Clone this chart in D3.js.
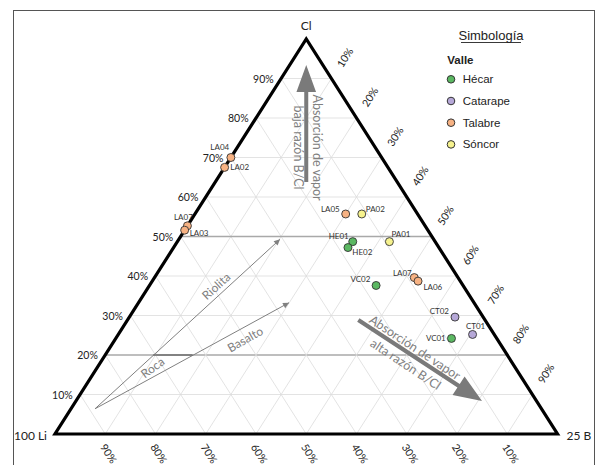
<!DOCTYPE html>
<html>
<head>
<meta charset="utf-8">
<script src="https://cdn.jsdelivr.net/npm/d3@7/dist/d3.min.js"></script>
<style>
  html, body { margin: 0; padding: 0; background: #fff; }
  svg { display: block; }
</style>
</head>
<body>
<svg id="chart" width="599" height="465"></svg>
<script>
// ---- Sample data: ternary composition (percent) for Li – B – Cl ----
const samples = ["LA04", "LA02", "LA07", "LA03", "LA05", "PA02", "HE01", "HE02", "PA01", "VC02", "LA07", "LA06", "CT02", "CT01", "VC01"];
const valley  = ["Talabre", "Talabre", "Talabre", "Talabre", "Talabre", "Sóncor", "Hécar", "Hécar", "Sóncor", "Hécar", "Talabre", "Talabre", "Catarape", "Catarape", "Hécar"];
const clPct   = [70.0, 67.5, 52.7, 51.6, 55.7, 55.7, 48.7, 47.2, 48.7, 37.6, 39.6, 38.7, 29.6, 25.2, 24.2];
const bPct    = [0.0, 0.0, 0.0, 0.0, 30.0, 33.2, 34.9, 34.7, 42.2, 45.1, 51.7, 52.9, 64.8, 70.5, 66.8];

// Legend categories
const valleys = ["Hécar", "Catarape", "Talabre", "Sóncor"];
const valleyColors = ["#5bb862", "#b6a8d8", "#f7b283", "#f6f28e"];

// Axis tick values (percent)
const ticks = [10, 20, 30, 40, 50, 60, 70, 80, 90];
const tickLabels = ticks.map(t => t + "%");

// ---- Layout ----
const svg = d3.select("#chart");
const xScale = d3.scaleLinear().domain([0, 1]).range([55, 557.5]);   // B + Cl/2
const yScale = d3.scaleLinear().domain([0, 1]).range([434, 39]);     // Cl

function project(li, b, cl) {
  const s = li + b + cl;
  const bf = b / s, cf = cl / s;
  return [xScale(bf + cf / 2), yScale(cf)];
}
const T = (b, cl) => project(100 - b - cl, b, cl);

const font = "Lato, 'Open Sans', sans-serif";

// Outer frame
svg.append("rect")
  .attr("x", 13.5).attr("y", 10.5).attr("width", 581).attr("height", 480)
  .attr("fill", "none").attr("stroke", "#555").attr("stroke-width", 1);

// ---- Grid ----
const grid = svg.append("g");
ticks.forEach(t => {
  const k = t;
  // constant Cl (horizontal)
  const a1 = T(0, k), a2 = T(100 - k, k);
  const strong = (k === 50 || k === 20);
  grid.append("line")
    .attr("x1", a1[0]).attr("y1", a1[1]).attr("x2", a2[0]).attr("y2", a2[1])
    .attr("stroke", strong ? "#a9a9a9" : "#dcdcdc")
    .attr("stroke-width", strong ? 1.3 : 0.8);
  // constant B
  const b1 = T(k, 0), b2 = T(k, 100 - k);
  grid.append("line")
    .attr("x1", b1[0]).attr("y1", b1[1]).attr("x2", b2[0]).attr("y2", b2[1])
    .attr("stroke", "#dcdcdc").attr("stroke-width", 0.8);
  // constant Li
  const c1 = project(k, 100 - k, 0), c2 = project(k, 0, 100 - k);
  grid.append("line")
    .attr("x1", c1[0]).attr("y1", c1[1]).attr("x2", c2[0]).attr("y2", c2[1])
    .attr("stroke", "#dcdcdc").attr("stroke-width", 0.8);
});

// Triangle outline
const vL = project(100, 0, 0), vR = project(0, 100, 0), vT = project(0, 0, 100);
svg.append("path")
  .attr("d", `M${vL}L${vR}L${vT}Z`)
  .attr("fill", "none").attr("stroke", "#000").attr("stroke-width", 3.2)
  .attr("stroke-linejoin", "miter");

// ---- Axis labels ----
const axisG = svg.append("g").attr("font-family", font).attr("font-size", 10.5).attr("fill", "#222");
// left edge: Cl
ticks.forEach((t, i) => {
  const p = project(100 - t, 0, t);
  axisG.append("text").attr("x", p[0] - 17.7).attr("y", p[1])
    .attr("text-anchor", "middle").attr("dominant-baseline", "central")
    .text(tickLabels[i]);
});
// right edge: B
const ldx = vT[0] - vL[0], ldy = vT[1] - vL[1], ll = Math.hypot(ldx, ldy);
const ux = ldx / ll, uy = ldy / ll;
const angR = Math.atan2(ldy, ldx) * 180 / Math.PI;
ticks.forEach((t, i) => {
  const p = project(0, t, 100 - t);
  const cx = p[0] + ux * 25, cy = p[1] + uy * 25;
  axisG.append("text").attr("transform", `translate(${cx},${cy}) rotate(${angR})`)
    .attr("text-anchor", "middle").attr("dominant-baseline", "central")
    .text(tickLabels[i]);
});
// bottom edge: Li
const angB = Math.atan2(vR[1] - vT[1], vR[0] - vT[0]) * 180 / Math.PI;
ticks.forEach((t, i) => {
  const p = project(t, 100 - t, 0);
  axisG.append("text").attr("transform", `translate(${p[0] + 3.5},${p[1] + 19.5}) rotate(${angB})`)
    .attr("text-anchor", "middle").attr("dominant-baseline", "central")
    .text(tickLabels[i]);
});

// Vertex labels
const vG = svg.append("g").attr("font-family", font).attr("font-size", 12).attr("fill", "#222");
vG.append("text").attr("x", vT[0]).attr("y", vT[1] - 14).attr("text-anchor", "middle")
  .attr("dominant-baseline", "central").text("Cl");
vG.append("text").attr("x", vL[0] - 8).attr("y", vL[1] + 1).attr("text-anchor", "end")
  .attr("dominant-baseline", "central").text("100 Li");
vG.append("text").attr("x", vR[0] + 9).attr("y", vR[1] + 1).attr("text-anchor", "start")
  .attr("dominant-baseline", "central").text("25 B");

// ---- Annotations ----
const grey = "#808080";
const defs = svg.append("defs");
defs.append("marker").attr("id", "thinHead")
  .attr("viewBox", "0 0 10 10").attr("refX", 10).attr("refY", 5)
  .attr("markerWidth", 9).attr("markerHeight", 6).attr("markerUnits", "userSpaceOnUse")
  .attr("orient", "auto")
  .append("path").attr("d", "M0,0L10,5L0,10Z").attr("fill", grey);

// Roca -> Riolita / Basalto trends (Li, B, Cl)
const rocaStart = project(88.85, 4.77, 6.38);
const riolitaEnd = project(30.58, 20.13, 49.29);
const basaltoEnd = project(36.81, 29.95, 33.24);
[riolitaEnd, basaltoEnd].forEach(e => {
  svg.append("line")
    .attr("x1", rocaStart[0]).attr("y1", rocaStart[1]).attr("x2", e[0]).attr("y2", e[1])
    .attr("stroke", grey).attr("stroke-width", 1).attr("marker-end", "url(#thinHead)");
});
// Roca bracket along the 20 % Cl line
const r1 = T(9.56, 20), r2 = T(17.38, 20);
svg.append("line").attr("x1", r1[0]).attr("y1", r1[1]).attr("x2", r2[0]).attr("y2", r2[1])
  .attr("stroke", "#6e6e6e").attr("stroke-width", 1.6);

// Thick arrows
function bigArrow(tail, tip, headLen, headHalf, shaft) {
  const dx = tip[0] - tail[0], dy = tip[1] - tail[1], L = Math.hypot(dx, dy);
  const ex = dx / L, ey = dy / L, nx = -ey, ny = ex;
  const bx = tip[0] - ex * headLen, by = tip[1] - ey * headLen;
  const pts = [
    [tail[0] + nx * shaft / 2, tail[1] + ny * shaft / 2],
    [bx + nx * shaft / 2, by + ny * shaft / 2],
    [bx + nx * headHalf, by + ny * headHalf],
    tip,
    [bx - nx * headHalf, by - ny * headHalf],
    [bx - nx * shaft / 2, by - ny * shaft / 2],
    [tail[0] - nx * shaft / 2, tail[1] - ny * shaft / 2]
  ];
  svg.append("path").attr("d", "M" + pts.join("L") + "Z").attr("fill", "#7a7a7a");
}
bigArrow(T(18.1, 63.8), T(3.3, 93.4), 27, 9.8, 4);
bigArrow(T(45.93, 28.86), T(80.8, 8.35), 28, 11, 4.2);

// Annotation text
const annG = svg.append("g").attr("font-family", font).attr("fill", grey)
  .attr("text-anchor", "middle").attr("dominant-baseline", "central");
function ann(pos, rot, size, txt) {
  annG.append("text").attr("transform", `translate(${pos[0]},${pos[1]}) rotate(${rot})`)
    .attr("font-size", size).text(txt);
}
ann(T(16.07, 72.53), 90, 12.5, "Absorción de vapor");
ann(T(12.29, 72.53), 90, 12.5, "baja razón B/Cl");
ann(T(60.7, 21.9), 33.5, 12.5, "Absorción de vapor");
ann(T(60.97, 17.67), 33.5, 12.5, "alta razón B/Cl");
ann(T(13.31, 37.47), -42.4, 12, "Riolita");
ann(T(25.81, 24.0), -29.5, 12, "Basalto");
ann(T(10.98, 16.84), -36, 12, "Roca");

// ---- Sample points ----
const labelLayout = [
  [-1.7, -10.6, "end"], [5.7, -0.6, "start"], [5.4, -8.4, "end"], [5, 3.3, "start"],
  [-6, -4.7, "end"], [4, -4.7, "start"], [-4, -5.7, "end"], [4.4, 4, "start"],
  [2, -7.7, "start"], [-5.7, -6.4, "end"], [-2.6, -5, "end"], [5.4, 5.7, "start"],
  [-6, -6.3, "end"], [3, -8.7, "middle"], [-5.7, 0, "end"]
];
const colorOf = d3.scaleOrdinal().domain(valleys).range(valleyColors);
const pts = samples.map((s, i) => {
  const p = project(100 - clPct[i] - bPct[i], bPct[i], clPct[i]);
  return { name: s, valley: valley[i], x: p[0], y: p[1], lay: labelLayout[i] };
});
svg.append("g").attr("font-family", font).attr("font-size", 8).attr("fill", "#333")
  .selectAll("text").data(pts).join("text")
  .attr("x", d => d.x + d.lay[0]).attr("y", d => d.y + d.lay[1])
  .attr("text-anchor", d => d.lay[2]).attr("dominant-baseline", "central")
  .text(d => d.name);
svg.append("g").selectAll("circle").data(pts).join("circle")
  .attr("cx", d => d.x).attr("cy", d => d.y).attr("r", 4)
  .attr("fill", d => colorOf(d.valley)).attr("stroke", "#333").attr("stroke-width", 0.9);

// ---- Legend ----
const lg = svg.append("g").attr("font-family", "'Liberation Sans', Arial, sans-serif").attr("fill", "#222");
lg.append("text").attr("x", 491).attr("y", 40).attr("text-anchor", "middle")
  .attr("font-size", 13).text("Simbología");
lg.append("line").attr("x1", 461).attr("x2", 521).attr("y1", 42.5).attr("y2", 42.5)
  .attr("stroke", "#222").attr("stroke-width", 0.9);
lg.append("text").attr("x", 447.3).attr("y", 63.5).attr("font-size", 11.5)
  .attr("font-weight", "bold").text("Valle");
valleys.forEach((v, i) => {
  const cy = 79.3 + i * 21.7;
  lg.append("circle").attr("cx", 451).attr("cy", cy).attr("r", 3.8)
    .attr("fill", valleyColors[i]).attr("stroke", "#333").attr("stroke-width", 1);
  lg.append("text").attr("x", 462.7).attr("y", cy).attr("dominant-baseline", "central")
    .attr("font-size", 11.5).text(v);
});
</script>
</body>
</html>
